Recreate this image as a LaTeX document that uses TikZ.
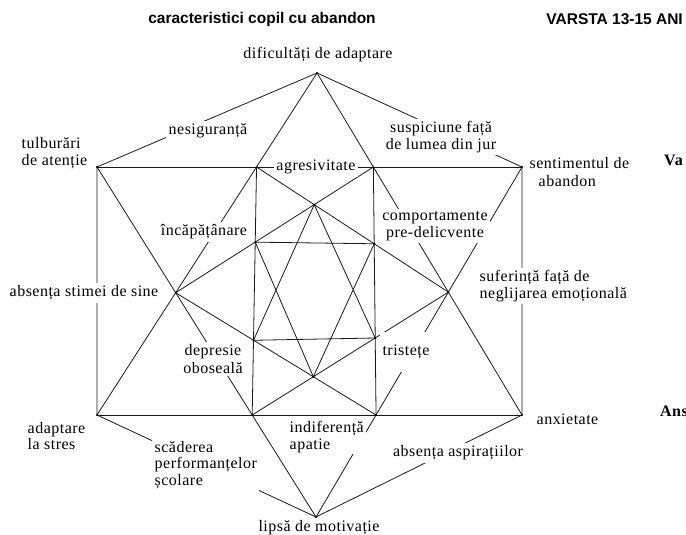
\documentclass[tikz,border=0pt]{standalone}
\usepackage{fontspec}
\setmainfont{Liberation Serif}[LetterSpace=3]
\newfontfamily\headfont{Liberation Sans}
\tikzset{
  lbl/.style={fill=white, inner sep=2.5pt, align=center, font=\fontsize{16}{16.5}\selectfont},
  head/.style={inner sep=0pt, font=\headfont\fontsize{15.5}{18}\selectfont\bfseries},
  side/.style={inner sep=0pt, anchor=west, font=\fontsize{16}{18}\selectfont\bfseries},
  edge/.style={black!90, line width=0.8pt},
}
\begin{document}
\begin{tikzpicture}[x=1pt,y=-1pt]
  \useasboundingbox (0,0) rectangle (686,535);
  % outer points
  \coordinate (T) at (317,73);
  \coordinate (UL) at (97,167);
  \coordinate (UR) at (522,167);
  \coordinate (LL) at (97,415);
  \coordinate (LR) at (522,415);
  \coordinate (B) at (316,517);
  % crossings of the big star
  \coordinate (A1) at (intersection of T--LL and UL--UR);
  \coordinate (A2) at (intersection of T--LR and UL--UR);
  \coordinate (D1) at (intersection of UL--B and LL--LR);
  \coordinate (D2) at (intersection of UR--B and LL--LR);
  \coordinate (L) at (intersection of T--LL and UL--B);
  \coordinate (R) at (intersection of T--LR and UR--B);
  % inner star and square
  \coordinate (Ti) at (intersection of A1--R and A2--L);
  \coordinate (Bi) at (intersection of L--D2 and R--D1);
  \coordinate (S1) at (intersection of A2--L and A1--D1);
  \coordinate (S2) at (intersection of A1--R and A2--D2);
  \coordinate (S3) at (intersection of R--D1 and A2--D2);
  \coordinate (S4) at (intersection of L--D2 and A1--D1);

  % hexagon and rectangle
  \draw[edge] (T) -- (UL) -- (LL) -- (B) -- (LR) -- (UR) -- cycle;
  \draw[edge] (UL) -- (UR) (LL) -- (LR);
  % big star
  \draw[edge] (T) -- (LL) (T) -- (LR) (B) -- (UL) (B) -- (UR);
  \draw[edge] (A1) -- (D1) (A2) -- (D2);
  % inner lines
  \draw[edge] (A1) -- (R) (A2) -- (L) (L) -- (D2) (R) -- (D1);
  \draw[edge] (S1) -- (S2) (S4) -- (S3);
  \draw[edge] (Ti) -- (S4) (Ti) -- (S3) (Bi) -- (S1) (Bi) -- (S2);
  \foreach \p in {T,UL,UR,LL,LR,B,A1,A2,D1,D2,L,R,Ti,Bi,S1,S2,S3,S4}
    \fill (\p) circle (1.1);

  % titles
  \node[head] (title) at (262,19) {caracteristici copil cu abandon};
  \node[head, anchor=east] (age) at (683,19) {VARSTA 13-15 ANI};
  \node[side] (va) at (664,160) {Va};
  \node[side] (ans) at (660,411) {Ans};

  % labels
  \node[lbl] (adapt) at (318,55) {dificultăți de adaptare};
  \node[lbl] (insec) at (208,131) {nesiguranță};
  \node[lbl] (susp) at (441,137) {suspiciune față\\de lumea din jur};
  \node[lbl, anchor=west, align=left] (attn) at (19,153) {tulburări\\de atenție};
  \node[lbl, anchor=west, align=left, font=\fontsize{16}{18}\selectfont] (aband) at (527,172) {sentimentul de\\\hspace*{9pt}abandon};
  \node[lbl] (aggr) at (316,167) {agresivitate};
  \node[lbl] (stub) at (204,232) {încăpățânare};
  \node[lbl] (predel) at (435,226) {comportamente\\pre-delicvente};
  \node[lbl] (esteem) at (84,293) {absența stimei de sine};
  \node[lbl, anchor=west, align=left] (negl) at (477,286) {suferință față de\\neglijarea emoțională};
  \node[lbl, font=\fontsize{16}{18.5}\selectfont] (depr) at (213,359) {depresie\\oboseală};
  \node[lbl, minimum height=40] (sad) at (406,352) {tristețe};
  \node[lbl, anchor=west, align=left, inner ysep=1pt] (apat) at (287,437) {indiferență\\apatie};
  \node[lbl, anchor=west, align=left] (stress) at (25,436) {adaptare\\la stres};
  \node[lbl, anchor=west, align=left] (school) at (152,465) {scăderea\\performanțelor\\școlare};
  \node[lbl] (asp) at (458,453) {absența aspirațiilor};
  \node[lbl, anchor=west] (anx) at (534,419) {anxietate};
  \node[lbl, inner ysep=1pt] (motiv) at (319,528) {lipsă de motivație};
\end{tikzpicture}
\end{document}
